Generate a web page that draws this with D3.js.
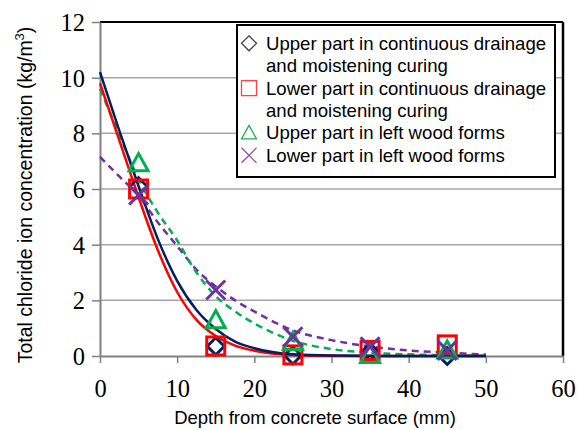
<!DOCTYPE html>
<html>
<head>
<meta charset="utf-8">
<script src="https://cdn.jsdelivr.net/npm/d3@7"></script>
<style>
  body { margin: 0; background: #fff; }
  svg { display: block; }
</style>
</head>
<body>
<svg id="chart" width="578" height="430"></svg>
<script>
// measured points
var depths = [5, 15, 25, 35, 45];
var upperDrain = [6.1, 0.35, 0.02, 0.15, 0.0];
var lowerDrain = [6.0, 0.36, 0.04, 0.2, 0.4];
var upperWood = [6.93, 1.29, 0.51, 0.04, 0.2];
var lowerWood = [5.78, 2.37, 0.69, 0.33, 0.2];

// fitted curves
var curveDepths = [0, 2.5, 5, 7.5, 10, 12.5, 15, 17.5, 20, 25, 30, 35, 40, 45, 50];
var upperDrainFit = [10.2, 8.1, 6.1, 4.2, 2.7, 1.65, 0.97, 0.52, 0.28, 0.06, 0.015, 0.005, 0, 0, 0];
var lowerDrainFit = [9.8, 7.75, 5.7, 3.8, 2.3, 1.3, 0.72, 0.37, 0.19, 0.04, 0.01, 0, 0, 0, 0];
var upperWoodFit = [9.6, 7.95, 6.35, 5.15, 4.15, 3.0, 2.15, 1.6, 1.17, 0.55, 0.25, 0.12, 0.06, 0.03, 0.01];
var lowerWoodFit = [7.15, 6.45, 5.75, 4.8, 3.95, 3.1, 2.5, 2.0, 1.6, 0.92, 0.57, 0.34, 0.2, 0.12, 0.05];

var xTicks = [0, 10, 20, 30, 40, 50, 60];
var yTicks = [0, 2, 4, 6, 8, 10, 12];

var legendLabels = [
  ['Upper part in continuous drainage', 'and moistening curing'],
  ['Lower part in continuous drainage', 'and moistening curing'],
  ['Upper part in left wood forms'],
  ['Lower part in left wood forms']
];

var margin = { top: 22, left: 100, right: 15, bottom: 74 };
var width = 578, height = 430;

var svg = d3.select('#chart');

var x = d3.scaleLinear().domain([0, 60]).range([margin.left, width - margin.right]);
var y = d3.scaleLinear().domain([0, 12]).range([height - margin.bottom, margin.top]);

var serif = 'Liberation Serif, Times New Roman, serif';
var sans = 'Liberation Sans, Arial, sans-serif';

// grid
svg.append('g')
  .selectAll('line')
  .data(yTicks.filter(d => d > 0 && d < 12))
  .enter()
  .append('line')
  .attr('x1', x(0))
  .attr('x2', x(60))
  .attr('y1', d => y(d))
  .attr('y2', d => y(d))
  .attr('stroke', '#a6a6a6')
  .attr('stroke-width', 1.5);

// frame: top and right black
svg.append('line')
  .attr('x1', x(0)).attr('x2', x(60))
  .attr('y1', y(12)).attr('y2', y(12))
  .attr('stroke', '#000').attr('stroke-width', 2);
svg.append('line')
  .attr('x1', x(60)).attr('x2', x(60))
  .attr('y1', y(12)).attr('y2', y(0))
  .attr('stroke', '#000').attr('stroke-width', 2.5);

// axes
var xAxis = d3.axisBottom(x).tickValues(xTicks).tickSize(7).tickSizeOuter(0);
var gx = svg.append('g')
  .attr('transform', `translate(0,${y(0)})`)
  .call(xAxis);
gx.select('.domain').attr('stroke', '#808080').attr('stroke-width', 2);
gx.selectAll('.tick line').attr('stroke', '#808080').attr('stroke-width', 1.5);
gx.selectAll('.tick text')
  .attr('y', 0)
  .attr('dy', 0)
  .attr('transform', 'translate(0,41)')
  .attr('font-family', serif)
  .attr('font-size', 24.5)
  .attr('fill', '#000');

var yAxis = d3.axisLeft(y).tickValues(yTicks).tickSize(8).tickSizeOuter(0);
var gy = svg.append('g')
  .attr('transform', `translate(${x(0)},0)`)
  .call(yAxis);
gy.select('.domain').attr('stroke', '#808080').attr('stroke-width', 2);
gy.selectAll('.tick line').attr('stroke', '#808080').attr('stroke-width', 1.5);
gy.selectAll('.tick text')
  .attr('x', -15)
  .attr('dy', '0.34em')
  .attr('font-family', serif)
  .attr('font-size', 24.5)
  .attr('fill', '#000');

// axis titles
svg.append('text')
  .attr('x', 315)
  .attr('y', 424)
  .attr('text-anchor', 'middle')
  .attr('font-family', sans)
  .attr('font-size', 18.5)
  .text('Depth from concrete surface (mm)');

var yt = svg.append('text')
  .attr('transform', 'translate(32,195) rotate(-90)')
  .attr('text-anchor', 'middle')
  .attr('font-family', sans)
  .attr('font-size', 19.5);
yt.append('tspan').text('Total chloride ion concentration (kg/m');
yt.append('tspan').attr('font-size', 13).attr('dy', -8).text('3');
yt.append('tspan').attr('dy', 8).text(')');

// fitted curves
var series = [
  { fit: upperDrainFit, pts: upperDrain, color: '#002060', dash: null, marker: 'diamond' },
  { fit: lowerDrainFit, pts: lowerDrain, color: '#ff0000', dash: null, marker: 'square' },
  { fit: upperWoodFit, pts: upperWood, color: '#00b050', dash: '7,5', marker: 'triangle' },
  { fit: lowerWoodFit, pts: lowerWood, color: '#7030a0', dash: '7,5', marker: 'cross' }
];

var line = d3.line()
  .x((d, i) => x(curveDepths[i]))
  .y(d => y(d))
  .curve(d3.curveMonotoneX);

// draw order: lower wood, upper wood, lower drain, upper drain (navy on top)
[3, 2, 1, 0].forEach(function (k) {
  var s = series[k];
  svg.append('path')
    .datum(s.fit)
    .attr('d', line)
    .attr('fill', 'none')
    .attr('stroke', s.color)
    .attr('stroke-width', 2.5)
    .attr('stroke-dasharray', s.dash);
});

function drawMarker(g, type, cx, cy, size, color, sw) {
  var h = size / 2;
  if (type === 'diamond') {
    g.append('path')
      .attr('d', `M${cx},${cy - h}L${cx + h},${cy}L${cx},${cy + h}L${cx - h},${cy}Z`)
      .attr('fill', 'none').attr('stroke', color).attr('stroke-width', sw);
  } else if (type === 'square') {
    g.append('rect')
      .attr('x', cx - h).attr('y', cy - h)
      .attr('width', size).attr('height', size)
      .attr('fill', 'none').attr('stroke', color).attr('stroke-width', sw);
  } else if (type === 'triangle') {
    g.append('path')
      .attr('d', `M${cx},${cy - h}L${cx + h},${cy + h * 0.8}L${cx - h},${cy + h * 0.8}Z`)
      .attr('fill', 'none').attr('stroke', color).attr('stroke-width', sw);
  } else {
    g.append('path')
      .attr('d', `M${cx - h},${cy - h}L${cx + h},${cy + h}M${cx + h},${cy - h}L${cx - h},${cy + h}`)
      .attr('fill', 'none').attr('stroke', color).attr('stroke-width', sw);
  }
}

// data markers
var markerSize = { diamond: 17, square: 18, triangle: 19, cross: 19 };
series.forEach(function (s) {
  var g = svg.append('g');
  s.pts.forEach(function (v, i) {
    drawMarker(g, s.marker, x(depths[i]), y(v), markerSize[s.marker], s.color, 3);
  });
});

// legend
var lg = svg.append('g');
lg.append('rect')
  .attr('x', 237).attr('y', 25)
  .attr('width', 318).attr('height', 152)
  .attr('fill', '#fff')
  .attr('stroke', '#000')
  .attr('stroke-width', 2);

var legendColors = ['#404040', '#ff4040', '#20b050', '#9050b0'];
var lineH = 22.4;
var row = 0;
legendLabels.forEach(function (lines, k) {
  var cy = 43.3 + row * lineH;
  drawMarker(lg, series[k].marker, 249, cy, 15, legendColors[k], 1.3);
  lines.forEach(function (t, j) {
    lg.append('text')
      .attr('x', 266)
      .attr('y', cy + j * lineH + 6.5)
      .attr('font-family', sans)
      .attr('font-size', 18.6)
      .attr('fill', '#000')
      .text(t);
  });
  row += lines.length;
});
</script>
</body>
</html>
